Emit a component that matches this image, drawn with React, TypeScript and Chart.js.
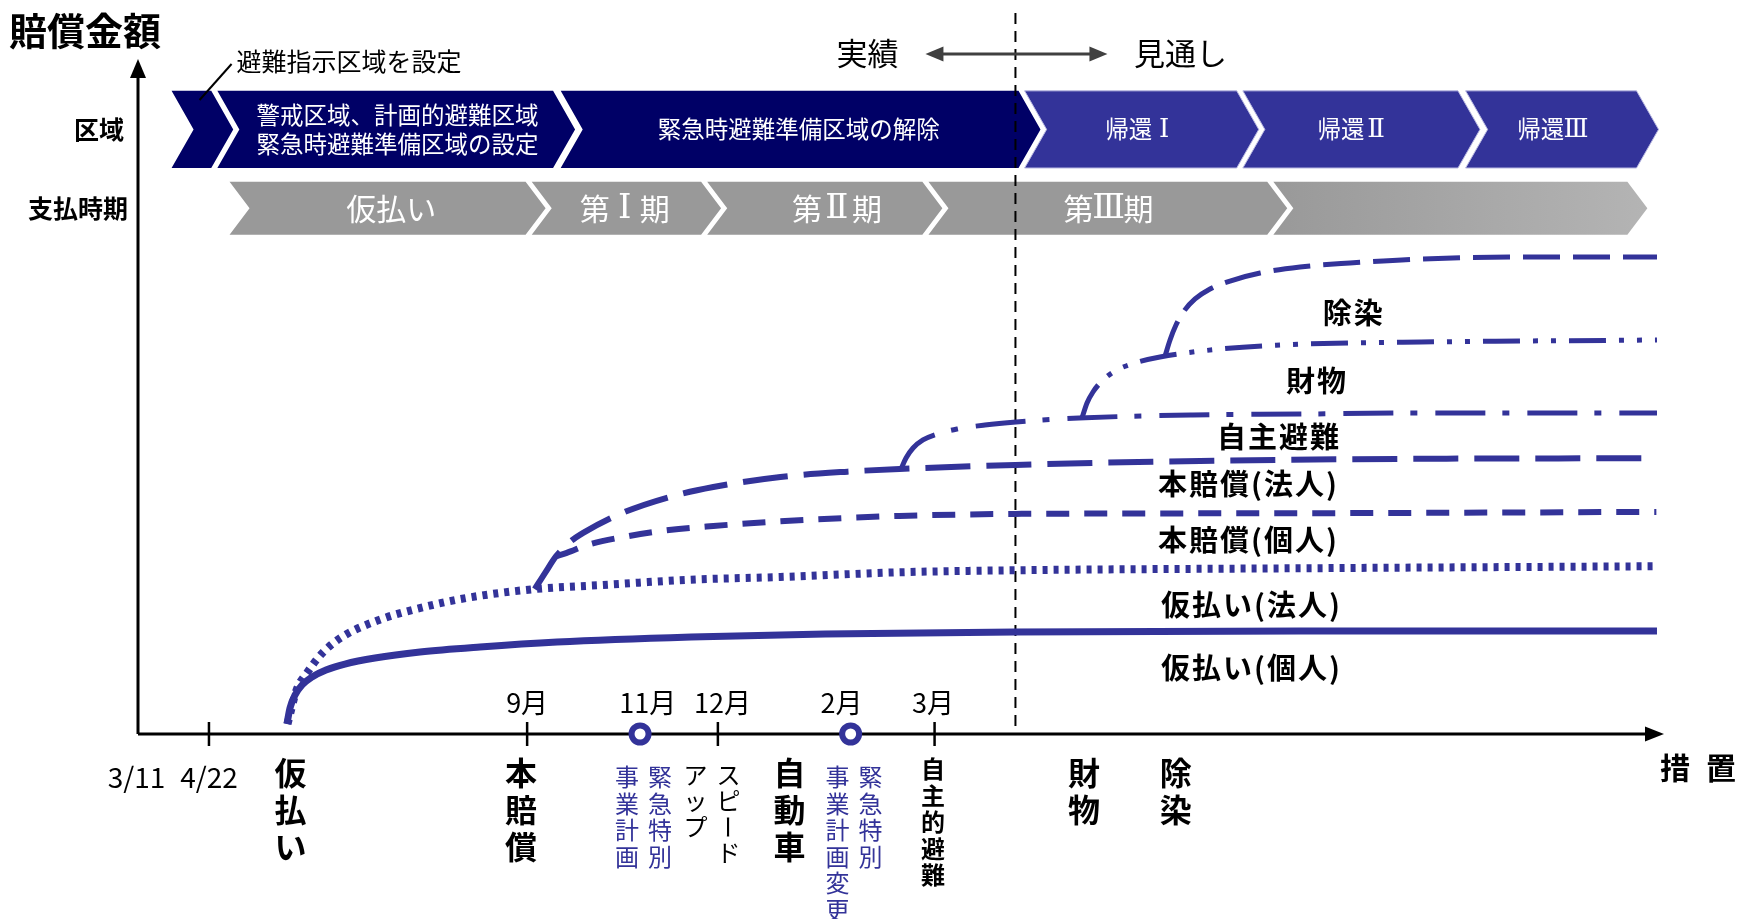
import React, { useEffect, useRef } from "react";
import { Chart, registerables } from "chart.js";

Chart.register(...registerables);

// ---------------- data (abstract units: x 0..100 along 措置, y 0..100 along 賠償金額) ----------------
const provIndivX = [9.76, 9.96, 10.29, 10.75, 11.4, 12.32, 13.56, 15.53, 18.48, 22.41, 27.46, 36.24, 45.02, 57.47, 76.15, 99.54];
const provIndivY = [1.49, 3.87, 5.81, 7.3, 8.49, 9.54, 10.43, 11.33, 12.22, 12.97, 13.71, 14.46, 14.9, 15.2, 15.35, 15.35];

const provCorpX = [9.8, 10.4, 11.1, 12.1, 13.4, 15.8, 18.7, 21.6, 26.0, 30.4, 36.2, 42.1, 49.9, 57.5, 76.2, 99.5];
const provCorpY = [1.5, 6.6, 9.2, 12.1, 14.5, 17.0, 18.9, 20.3, 21.6, 22.2, 23.0, 23.4, 24.1, 24.4, 24.7, 25.0];

const mainIndivX = [27.4, 28.1, 29.5, 31.9, 34.8, 37.7, 42.1, 46.5, 49.9, 57.5, 76.2, 99.5];
const mainIndivY = [26.5, 27.0, 28.2, 29.4, 30.4, 31.0, 31.7, 32.2, 32.5, 32.8, 32.9, 33.1];

const mainCorpX = [26.0, 26.7, 27.4, 28.3, 29.2, 31.7, 34.8, 37.7, 42.1, 46.5, 49.9, 57.5, 69.6, 82.7, 99.5];
const mainCorpY = [21.6, 24.1, 26.5, 28.6, 30.0, 32.9, 35.3, 36.8, 38.3, 39.1, 39.5, 40.1, 40.7, 41.0, 41.1];

const voluntaryX = [50.0, 50.33, 50.79, 51.44, 52.36, 53.67, 55.5, 57.54, 61.66, 69.13, 76.61, 84.08, 99.54];
const voluntaryY = [39.49, 41.13, 42.62, 43.82, 44.71, 45.45, 46.05, 46.5, 47.09, 47.54, 47.69, 47.84, 47.84];

const propertyX = [61.86, 62.19, 62.58, 63.17, 64.02, 65.33, 66.97, 70.97, 76.61, 84.08, 99.54];
const propertyY = [47.1, 49.33, 50.97, 52.61, 54.1, 55.29, 56.18, 57.38, 58.12, 58.42, 58.72];

const decontamX = [67.3, 67.63, 68.02, 68.55, 69.27, 70.25, 71.56, 73.53, 76.15, 79.42, 84.08, 91.61, 99.54];
const decontamY = [56.3, 58.72, 60.95, 63.04, 64.83, 66.32, 67.51, 68.7, 69.6, 70.19, 70.79, 71.09, 71.09];

const curveLabels = ["仮払い(個人)", "仮払い(法人)", "本賠償(個人)", "本賠償(法人)", "自主避難", "財物", "除染"];
const curveLabelX = [72.9, 72.9, 72.7, 72.7, 74.7, 77.2, 79.6];
const curveLabelY = [9.8, 19.2, 28.9, 37.3, 44.3, 52.6, 62.7];

// timeline rows
const regionLabels = ["", "警戒区域、計画的避難区域\n緊急時避難準備区域の設定", "緊急時避難準備区域の解除", "帰還Ⅰ", "帰還Ⅱ", "帰還Ⅲ"];
const regionStart = [2.2, 5.2, 27.7, 58.1, 72.4, 87.0];
const regionEnd = [4.8, 27.2, 57.7, 72.0, 86.5, 98.2];
const regionLabelX = [0, 17.0, 43.3, 65.7, 79.6, 92.7];
const regionPlanned = [false, false, false, true, true, true];

const payLabels = ["仮払い", "第Ⅰ期", "第Ⅱ期", "第Ⅲ期", ""];
const payStart = [6.0, 25.8, 37.3, 51.8, 74.4];
const payEnd = [25.4, 36.9, 51.4, 74.0, 97.6];
const payLabelX = [16.6, 31.9, 45.8, 63.6, 0];

// axis events
const dateLabels = ["3/11", "4/22"];
const dateLabelX = [-0.1, 4.65];
const tickX = [4.65, 25.5, 38.0, 52.2];
const monthLabels = ["9月", "11月", "12月", "2月", "3月"];
const monthLabelX = [25.5, 33.4, 38.3, 46.1, 52.1];
const circleX = [32.9, 46.7];
const boundaryX = 57.5;

const measureNames = ["仮払い", "本賠償", "緊急特別|事業計画", "スピード|アップ", "自動車", "緊急特別|事業計画変更", "自主的避難", "財物", "除染"];
const measureX = [10.0, 25.1, 34.2, 38.7, 42.7, 48.0, 52.1, 62.0, 68.0];
const measureKind = ["major", "major", "note", "memo", "major", "note", "minor", "major", "major"];

// ---------------- styles ----------------
const W = 1746;
const H = 919;
const NAVY = "#000066";
const BLUE = "#333399";
const GRAY = "#999999";
const FONT = '"Noto Sans CJK JP", "Noto Sans", sans-serif';
const SERIF = '"DejaVu Serif", "Liberation Serif", serif';
const REGION_ROW = [84.35, 95.85];
const PAY_ROW = [74.4, 82.3];

const kindStyle: Record<string, { font: string; color: string; pitch: number; top: number }> = {
  major: { font: `bold 32px ${FONT}`, color: "#000", pitch: 37, top: 773 },
  note: { font: `24px ${FONT}`, color: BLUE, pitch: 26.5, top: 777 },
  memo: { font: `24px ${FONT}`, color: "#000", pitch: 26, top: 775 },
  minor: { font: `bold 24px ${FONT}`, color: "#000", pitch: 26.5, top: 769 },
};

const isRoman = (ch: string) => /[\u2160-\u216B]/.test(ch);

function drawMixed(ctx: CanvasRenderingContext2D, text: string, cx: number, cy: number, size: number) {
  const cjk = `${size}px ${FONT}`;
  const serif = `${Math.round(size * 1.12)}px ${SERIF}`;
  const chars = Array.from(text);
  const widths = chars.map((ch) => {
    if (isRoman(ch)) return size;
    ctx.font = cjk;
    return ctx.measureText(ch).width;
  });
  const total = widths.reduce((a, b) => a + b, 0);
  let x = cx - total / 2;
  ctx.textAlign = "center";
  chars.forEach((ch, i) => {
    ctx.font = isRoman(ch) ? serif : cjk;
    ctx.fillText(ch, x + widths[i] / 2, cy + (isRoman(ch) ? 1 : 0));
    x += widths[i];
  });
}

function chevron(ctx: CanvasRenderingContext2D, x0: number, x1: number, top: number, bot: number, d: number) {
  const mid = (top + bot) / 2;
  ctx.beginPath();
  ctx.moveTo(x0, top);
  ctx.lineTo(x1, top);
  ctx.lineTo(x1 + d, mid);
  ctx.lineTo(x1, bot);
  ctx.lineTo(x0, bot);
  ctx.lineTo(x0 + d, mid);
  ctx.closePath();
}

function arrowHead(ctx: CanvasRenderingContext2D, tx: number, ty: number, dx: number, dy: number, len: number, half: number) {
  const px = -dy, py = dx;
  ctx.beginPath();
  ctx.moveTo(tx, ty);
  ctx.lineTo(tx - dx * len + px * half, ty - dy * len + py * half);
  ctx.lineTo(tx - dx * len - px * half, ty - dy * len - py * half);
  ctx.closePath();
  ctx.fill();
}

const diagramPlugin = {
  id: "diagram",
  beforeDatasetsDraw(chart: any) {
    const ctx: CanvasRenderingContext2D = chart.ctx;
    const X = (v: number) => chart.scales.x.getPixelForValue(v);
    const Y = (v: number) => chart.scales.y.getPixelForValue(v);
    const { left, right, top, bottom } = chart.chartArea;
    ctx.save();

    // region row
    const rTop = Y(REGION_ROW[1]);
    const rBot = Y(REGION_ROW[0]);
    regionStart.forEach((s, i) => {
      chevron(ctx, X(s), X(regionEnd[i]), rTop, rBot, 22);
      ctx.fillStyle = regionPlanned[i] ? BLUE : NAVY;
      ctx.fill();
      if (regionPlanned[i]) {
        ctx.strokeStyle = "#b8b8e0";
        ctx.lineWidth = 1;
        ctx.stroke();
      }
    });
    // pay row
    const pTop = Y(PAY_ROW[1]);
    const pBot = Y(PAY_ROW[0]);
    payStart.forEach((s, i) => {
      const x0 = X(s), x1 = X(payEnd[i]);
      chevron(ctx, x0, x1, pTop, pBot, 20);
      if (i === payStart.length - 1) {
        const g = ctx.createLinearGradient(x0, 0, x1 + 20, 0);
        g.addColorStop(0, "#999999");
        g.addColorStop(1, "#b4b4b4");
        ctx.fillStyle = g;
      } else ctx.fillStyle = GRAY;
      ctx.fill();
    });

    // dashed boundary between 実績 / 見通し
    ctx.strokeStyle = "#000";
    ctx.lineWidth = 2;
    ctx.setLineDash([11, 7]);
    ctx.beginPath();
    ctx.moveTo(X(boundaryX), 13);
    ctx.lineTo(X(boundaryX), bottom);
    ctx.stroke();
    ctx.setLineDash([]);

    // axes
    ctx.fillStyle = "#000";
    ctx.lineWidth = 3;
    ctx.beginPath();
    ctx.moveTo(left, bottom);
    ctx.lineTo(left, top + 14);
    ctx.moveTo(left, bottom);
    ctx.lineTo(right - 14, bottom);
    ctx.stroke();
    arrowHead(ctx, left, top - 4, 0, -1, 19, 8);
    arrowHead(ctx, right, bottom, 1, 0, 19, 7.5);

    // ticks
    ctx.lineWidth = 2.5;
    tickX.forEach((t) => {
      ctx.beginPath();
      ctx.moveTo(X(t), bottom - 12);
      ctx.lineTo(X(t), bottom + 12);
      ctx.stroke();
    });

    // 実績 <-> 見通し arrow
    const ax = X(boundaryX);
    ctx.strokeStyle = "#404040";
    ctx.fillStyle = "#404040";
    ctx.lineWidth = 3;
    ctx.beginPath();
    ctx.moveTo(ax - 76, 54);
    ctx.lineTo(ax + 76, 54);
    ctx.stroke();
    arrowHead(ctx, ax - 90, 54, -1, 0, 18, 7.5);
    arrowHead(ctx, ax + 92, 54, 1, 0, 18, 7.5);

    // pointer line to 避難指示区域を設定
    ctx.strokeStyle = "#000";
    ctx.lineWidth = 2;
    ctx.beginPath();
    ctx.moveTo(X(regionStart[0]) + 28, 100);
    ctx.lineTo(X(regionStart[0]) + 60, 64);
    ctx.stroke();

    ctx.restore();
  },
  afterDatasetsDraw(chart: any) {
    const ctx: CanvasRenderingContext2D = chart.ctx;
    const X = (v: number) => chart.scales.x.getPixelForValue(v);
    const Y = (v: number) => chart.scales.y.getPixelForValue(v);
    const { left, bottom, right } = chart.chartArea;
    ctx.save();
    ctx.textBaseline = "middle";

    // titles
    ctx.fillStyle = "#000";
    ctx.textAlign = "left";
    ctx.font = `bold 38px ${FONT}`;
    ctx.fillText("賠償金額", 9, 31);
    ctx.font = `25px ${FONT}`;
    ctx.fillText("避難指示区域を設定", X(regionStart[0]) + 65, 61);
    ctx.textAlign = "center";
    ctx.font = `31px ${FONT}`;
    ctx.fillText("実績", X(boundaryX) - 148, 53);
    ctx.fillText("見通し", X(boundaryX) + 165, 53);

    // row headings
    ctx.textAlign = "right";
    ctx.font = `bold 25px ${FONT}`;
    ctx.fillText("区域", left - 14, (Y(REGION_ROW[0]) + Y(REGION_ROW[1])) / 2);
    ctx.fillText("支払時期", left - 10, (Y(PAY_ROW[0]) + Y(PAY_ROW[1])) / 2);

    // region labels
    ctx.fillStyle = "#fff";
    const rMid = (Y(REGION_ROW[0]) + Y(REGION_ROW[1])) / 2;
    regionLabels.forEach((lab, i) => {
      if (!lab) return;
      const lines = lab.split("\n");
      lines.forEach((ln, k) => {
        drawMixed(ctx, ln, X(regionLabelX[i]), rMid + (k - (lines.length - 1) / 2) * 29, 23.5);
      });
    });
    // pay labels
    const pMid = (Y(PAY_ROW[0]) + Y(PAY_ROW[1])) / 2;
    payLabels.forEach((lab, i) => {
      if (lab) drawMixed(ctx, lab, X(payLabelX[i]), pMid, 30);
    });

    // curve labels
    ctx.textAlign = "center";
    ctx.fillStyle = "#000";
    ctx.font = `bold 29px ${FONT}`;
    (ctx as any).letterSpacing = "2px";
    curveLabels.forEach((lab, i) => ctx.fillText(lab, X(curveLabelX[i]) + 1, Y(curveLabelY[i])));
    (ctx as any).letterSpacing = "0px";

    // month labels
    ctx.font = `27px ${FONT}`;
    monthLabels.forEach((lab, i) => ctx.fillText(lab, X(monthLabelX[i]), bottom - 31));
    // date labels
    ctx.font = `28px ${FONT}`;
    dateLabels.forEach((lab, i) => ctx.fillText(lab, X(dateLabelX[i]), bottom + 43));

    // measure labels (vertical)
    measureNames.forEach((name, i) => {
      const st = kindStyle[measureKind[i]];
      ctx.font = st.font;
      ctx.fillStyle = st.color;
      name.split("|").forEach((col, c) => {
        const cx = X(measureX[i]) - c * 33;
        Array.from(col).forEach((ch, k) => {
          const cy = st.top + k * st.pitch;
          if (ch === "ー") {
            ctx.save();
            ctx.translate(cx, cy);
            ctx.rotate(Math.PI / 2);
            ctx.fillText(ch, 0, 0);
            ctx.restore();
          } else {
            ctx.fillText(ch, cx, cy);
          }
        });
      });
    });

    // axis title
    ctx.fillStyle = "#000";
    ctx.font = `bold 30px ${FONT}`;
    ctx.fillText("措", right + 11, bottom + 34);
    ctx.fillText("置", right + 57, bottom + 34);

    ctx.restore();
  },
};

export default function App() {
  const ref = useRef<HTMLCanvasElement>(null);
  useEffect(() => {
    document.body.style.margin = "0";
    const zip = (xs: number[], ys: number[]) => xs.map((x, i) => ({ x, y: ys[i] }));
    const curve = (label: string, xs: number[], ys: number[], dash: number[], width: number) => ({
      type: "line" as const,
      label,
      data: zip(xs, ys),
      borderColor: BLUE,
      borderWidth: width,
      borderDash: dash,
      borderCapStyle: "butt" as const,
      borderJoinStyle: "round" as const,
      cubicInterpolationMode: "monotone" as const,
      pointRadius: 0,
      fill: false,
      clip: false as any,
      order: 1,
    });
    const chart = new Chart(ref.current as HTMLCanvasElement, {
      type: "line",
      data: {
        datasets: [
          {
            type: "scatter" as const,
            label: "緊急特別事業計画",
            data: circleX.map((x) => ({ x, y: 0 })),
            pointRadius: 8.5,
            pointBorderWidth: 6,
            pointBackgroundColor: "#fff",
            pointBorderColor: BLUE,
            showLine: false,
            clip: false as any,
            order: -1,
          } as any,
          curve("仮払い(個人)", provIndivX, provIndivY, [], 7),
          curve("仮払い(法人)", provCorpX, provCorpY, [5, 6], 8),
          curve("本賠償(個人)", mainIndivX, mainIndivY, [23, 15], 6),
          curve("本賠償(法人)", mainCorpX, mainCorpY, [45, 16], 6),
          curve("自主避難", voluntaryX, voluntaryY, [50, 17, 7, 18], 5),
          curve("財物", propertyX, propertyY, [37, 13, 5, 13, 5, 13], 5),
          curve("除染", decontamX, decontamY, [37, 13], 5),
        ],
      },
      options: {
        animation: false,
        responsive: false,
        devicePixelRatio: 1,
        layout: { padding: { left: 138, right: W - 1664, top: 63, bottom: H - 734 } },
        scales: {
          x: { type: "linear", min: 0, max: 100, display: false },
          y: { type: "linear", min: 0, max: 100, display: false },
        },
        plugins: { legend: { display: false }, tooltip: { enabled: false } },
        events: [],
      },
      plugins: [diagramPlugin],
    });
    return () => chart.destroy();
  }, []);
  return (
    <div style={{ position: "absolute", left: 0, top: 0, width: W, height: H, background: "#fff" }}>
      <canvas ref={ref} width={W} height={H} style={{ display: "block", width: W, height: H }} />
    </div>
  );
}
